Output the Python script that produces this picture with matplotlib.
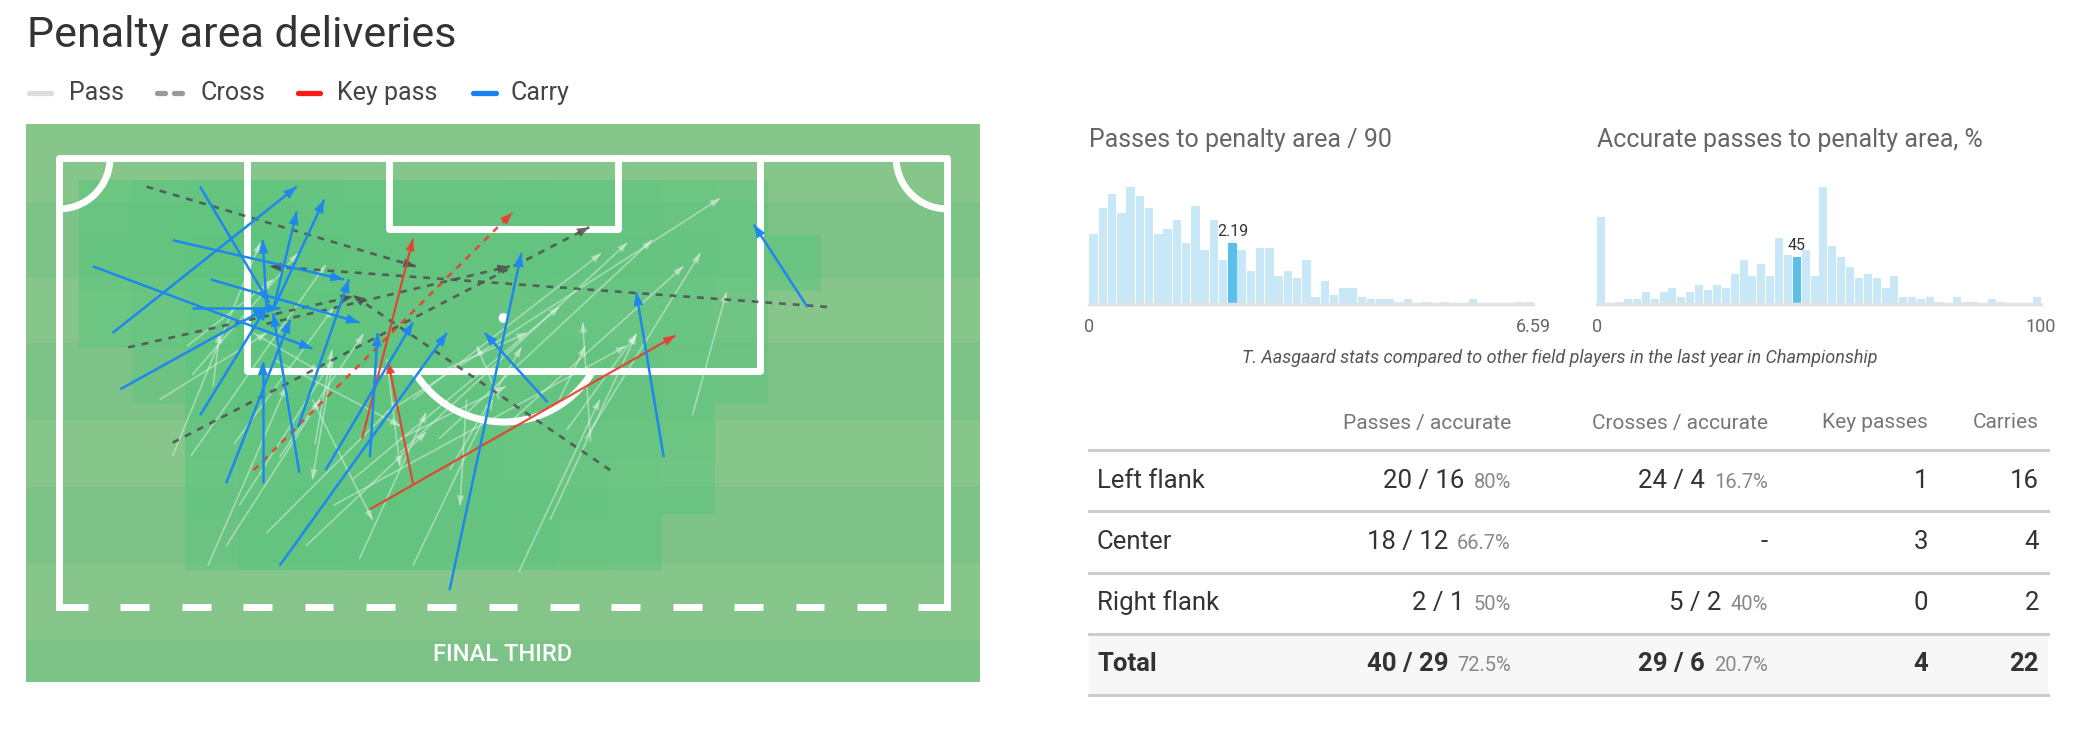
import numpy as np
import matplotlib
matplotlib.use("Agg")
import matplotlib.pyplot as plt
from matplotlib.patches import Arc, Circle, Rectangle

plt.rcParams['font.family'] = ['Roboto', 'DejaVu Sans']

W, H = 2088, 744

# ---------------- data ----------------
# pitch events in metres: x across the pitch (0..68), y from the goal line
passes = [
    (25.1, 19.5, 50.6, 3.1), (26.1, 22.6, 43.5, 6.5), (29.1, 21.5, 45.4, 6.3),
    (27.1, 18.5, 41.5, 7.3), (34.2, 20.5, 47.8, 8.3), (40.3, 21.5, 49.1, 7.3),
    (48.5, 19.7, 51.1, 10.3), (40.7, 21.7, 40.1, 12.6), (38.9, 20.8, 44.2, 13.5),
    (37.6, 27.7, 44.2, 13.5), (29.9, 23.9, 35.4, 14.5), (33.7, 18.5, 32.0, 14.4),
    (10.2, 16.6, 18.3, 7.3), (8.7, 22.8, 15.4, 6.5), (10.1, 22.8, 20.4, 8.2),
    (19.6, 21.9, 20.9, 14.7), (16.9, 22.9, 23.3, 13.5), (13.4, 21.9, 21.0, 11.5),
    (11.4, 31.2, 17.4, 17.5), (12.8, 29.7, 20.0, 18.5), (15.9, 28.7, 26.1, 18.5),
    (18.9, 29.7, 28.1, 21.0), (27.1, 31.2, 33.2, 18.5), (35.2, 31.7, 41.4, 18.5),
    (22.5, 24.6, 38.3, 11.4), (21.0, 26.6, 43.4, 14.4), (13.8, 26.6, 21.0, 15.4),
    (16.4, 15.4, 26.1, 20.5), (9.8, 14.4, 16.4, 9.3), (7.7, 18.5, 15.9, 13.4),
    (21.0, 15.4, 19.4, 24.6), (25.1, 15.4, 26.1, 23.6), (31.2, 18.5, 30.7, 26.6),
    (19.4, 18.5, 24.0, 27.7), (14.9, 13.4, 20.0, 16.4), (29.1, 16.4, 35.8, 13.4),
    (11.8, 17.5, 12.3, 13.4), (38.3, 18.5, 40.3, 14.4), (26.1, 21.5, 34.2, 17.5),
    (23.0, 30.7, 28.1, 19.5),
]
crosses = [
    (6.7, 2.2, 27.3, 8.3), (58.8, 11.4, 16.1, 8.3), (8.7, 21.8, 40.6, 5.3),
    (5.3, 14.5, 22.5, 10.6), (15.9, 12.7, 34.5, 8.3), (42.2, 23.9, 22.5, 10.5),
]
key_passes = [
    (23.2, 21.5, 27.1, 6.2), (27.1, 24.9, 25.2, 15.6), (23.8, 26.9, 47.2, 13.6),
]
key_crosses = [
    (14.9, 23.9, 34.7, 4.2),
]
carries = [
    (4.1, 13.4, 18.2, 2.2), (2.6, 8.3, 19.4, 14.6), (8.7, 6.3, 21.8, 9.3),
    (11.6, 9.3, 23.0, 12.6), (10.2, 11.5, 16.9, 11.5), (15.9, 11.6, 15.6, 6.3),
    (16.4, 11.6, 18.2, 4.1), (16.4, 11.6, 20.3, 3.2), (15.6, 24.9, 15.6, 15.6),
    (10.8, 2.2, 16.1, 11.1), (18.4, 24.1, 16.4, 11.9), (12.8, 24.9, 17.7, 12.4),
    (10.8, 19.7, 15.9, 11.4), (4.7, 17.7, 15.9, 11.5), (18.3, 20.6, 22.2, 9.3),
    (23.8, 22.9, 24.4, 13.4), (20.4, 23.9, 27.1, 12.6), (16.9, 31.2, 29.7, 13.4),
    (29.9, 33.1, 35.4, 7.3), (46.3, 22.9, 44.2, 10.3), (57.3, 11.4, 53.2, 5.1),
    (37.4, 18.7, 32.6, 13.4),
]

# heat map behind the events (rows from goal line down, cols left to right)
heat = [
    [0] * 18,
    [0, .4, .6, .7, .8, .7, .6, .5, .5, .6, .5, .5, .4, .3, 0, 0, 0, 0],
    [0, .5, .6, .8, .9, .8, .7, .7, .6, .7, .6, .6, .5, .4, .3, 0, 0, 0],
    [0, .4, .5, .8, 1., .9, .8, .7, .7, .6, .6, .5, .5, .3, 0, 0, 0, 0],
    [0, 0, .2, .7, .9, .9, .8, .7, .7, .6, .6, .5, .4, .2, 0, 0, 0, 0],
    [0, 0, 0, .6, .8, .9, .8, .7, .7, .6, .6, .5, .4, 0, 0, 0, 0, 0],
    [0, 0, 0, .5, .7, .8, .8, .7, .7, .6, .5, .4, .3, 0, 0, 0, 0, 0],
    [0, 0, 0, .3, .6, .7, .6, .6, .5, .5, .4, .3, 0, 0, 0, 0, 0, 0],
    [0] * 18,
    [0] * 18,
]

hist1_counts = [30, 41, 47, 39, 50, 46, 41, 30, 32, 36, 26, 42, 23, 36, 19, 26,
                23, 14, 24, 24, 12, 14, 11, 19, 3, 10, 4, 7, 7, 3, 2, 2,
                2, 1, 2, 0, 1, 0, 1, 0, 0, 2, 0, 0, 0, 0, 1, 1]
hist1_max = 6.59
hist1_value = 2.19
hist2_counts = [37, 0, 1, 2, 2, 5, 2, 5, 7, 3, 5, 8, 6, 8, 7, 13, 19, 12, 17, 12,
                28, 21, 20, 23, 12, 50, 25, 20, 16, 11, 13, 11, 7, 12, 3, 3, 2, 3, 1, 0,
                3, 1, 1, 0, 2, 1, 0, 0, 0, 3]
hist2_max = 100
hist2_value = 45

zones = ["Left flank", "Center", "Right flank", "Total"]
pass_total = [20, 18, 2, 40]
pass_acc = [16, 12, 1, 29]
cross_total = [24, 0, 5, 29]
cross_acc = [4, 0, 2, 6]
key_pass_n = [1, 3, 0, 4]
carry_n = [16, 4, 2, 22]
headers = ["Passes / accurate", "Crosses / accurate", "Key passes", "Carries"]

# ---------------- figure ----------------
fig = plt.figure(figsize=(W / 100, H / 100), dpi=100)
ov = fig.add_axes([0, 0, 1, 1])
ov.set_xlim(0, W)
ov.set_ylim(H, 0)
ov.axis("off")


def rect(x0, y0, x1, y1):
    return [x0 / W, 1 - y1 / H, (x1 - x0) / W, (y1 - y0) / H]


ov.text(27, 36, "Penalty area deliveries", fontsize=31, color="#333333", va="center")

# legend
ly = 93
ov.plot([29, 51], [ly, ly], color="#dddddd", lw=3.8, solid_capstyle="round")
ov.text(69, ly, "Pass", fontsize=18, color="#444444", va="center")
for xa in (157, 174):
    ov.plot([xa, xa + 8], [ly, ly], color="#999999", lw=3.8, solid_capstyle="round")
ov.text(200, ly, "Cross", fontsize=18, color="#444444", va="center")
ov.plot([298, 320], [ly, ly], color="#ff1a1a", lw=3.8, solid_capstyle="round")
ov.text(337, ly, "Key pass", fontsize=18, color="#444444", va="center")
ov.plot([473, 496], [ly, ly], color="#1a7ff0", lw=3.8, solid_capstyle="round")
ov.text(511, ly, "Carry", fontsize=18, color="#444444", va="center")

# ---------------- pitch ----------------
x_lo, x_hi, y_lo, y_hi = -2.53, 70.52, -2.60, 40.12
ax = fig.add_axes(rect(26, 124, 980, 682))
ax.set_xlim(x_lo, x_hi)
ax.set_ylim(y_hi, y_lo)
ax.axis("off")

bands = [-2.6, 3.37, 9.19, 14.17, 20.06, 25.19, 31.01, 36.9, 40.12]
for i in range(len(bands) - 1):
    ax.axhspan(bands[i], bands[i + 1], color="#86c68b" if i % 2 == 0 else "#7dc287",
               lw=0, zorder=0)

heat_arr = np.array(heat)
rgba = np.zeros(heat_arr.shape + (4,))
rgba[..., 0], rgba[..., 1], rgba[..., 2] = 88 / 255, 197 / 255, 124 / 255
rgba[..., 3] = np.sqrt(heat_arr) * 0.85
ax.imshow(rgba, extent=(x_lo, x_hi, y_hi, y_lo), interpolation="nearest",
          aspect="auto", zorder=1)

lc = dict(color="white", lw=5, zorder=2, solid_capstyle="projecting")
fin = 34.38
ax.plot([0, 0, 68, 68], [fin, 0, 0, fin], **lc)
pb_l, pb_r, pb_d = 14.39, 53.68, 16.31
ax.plot([pb_l, pb_l, pb_r, pb_r], [0, pb_d, pb_d, 0], **lc)
ax.plot([25.27, 25.27, 42.80, 42.80], [0, 5.44, 5.44, 0], **lc)
spot = (34.03, 12.25)
ax.add_patch(Circle(spot, 0.32, color="white", zorder=2))
r_arc = 7.96
a0 = np.degrees(np.arcsin((pb_d - spot[1]) / r_arc))
ax.add_patch(Arc(spot, 2 * r_arc, 2 * r_arc, theta1=a0, theta2=180 - a0,
                 color="white", lw=5, zorder=2))
ax.add_patch(Arc((0, 0), 7.8, 7.8, theta1=0, theta2=90, color="white", lw=5, zorder=2))
ax.add_patch(Arc((68, 0), 7.8, 7.8, theta1=90, theta2=180, color="white", lw=5, zorder=2))
for s in np.linspace(0, 68 - 2.2, 15):
    ax.plot([s, s + 2.2], [fin, fin], color="white", lw=5, zorder=2, solid_capstyle="butt")
ax.text(34, 38.0, "FINAL THIRD", color="white", fontsize=17, fontweight="medium",
        ha="center", va="center", zorder=2)


def draw_arrows(items, color, lw, alpha=1.0, ls="-", head=9, z=3):
    for a, b, c, d in items:
        ax.plot([a, c], [b, d], color=color, lw=lw, ls=ls, alpha=alpha, zorder=z,
                solid_capstyle="butt", dash_capstyle="butt")
        ax.annotate("", xy=(c, d), xytext=(a, b), zorder=z,
                    arrowprops=dict(arrowstyle="-|>,head_length=0.8,head_width=0.3",
                                    lw=0, color=color, alpha=alpha,
                                    shrinkA=0, shrinkB=0, mutation_scale=head))


draw_arrows(passes, "#f2f7f2", 1.2, alpha=0.45, head=9, z=3)
draw_arrows(crosses, "#4f4f4f", 1.9, alpha=0.85, ls=(0, (2.6, 2.6)), head=11, z=4)
draw_arrows(key_crosses, "#ec3b2c", 1.8, alpha=0.9, ls=(0, (2.6, 2.6)), head=11, z=5)
draw_arrows(key_passes, "#ec3b2c", 1.6, alpha=0.9, head=11, z=5)
draw_arrows(carries, "#1e88ef", 1.8, head=12, z=6)


# ---------------- histograms ----------------
def histogram(x0, title, counts, vmax, value, label, lo_lab, hi_lab):
    hx = fig.add_axes(rect(x0, 187, x0 + 444, 304))
    n = len(counts)
    edges = np.linspace(0, vmax, n + 1)
    bw = edges[1] - edges[0]
    hi = min(int(value / bw), n - 1)
    cols = ["#5bbfeb" if i == hi else "#c9e8f7" for i in range(n)]
    hx.bar(edges[:-1] + bw / 2, counts, width=bw * 0.9, color=cols, lw=0)
    hx.set_xlim(0, vmax)
    hx.set_ylim(0, max(counts))
    hx.axis("off")
    hx.axhline(0, color="#e2e2e2", lw=2.5, clip_on=False)
    hx.annotate(label, xy=(edges[hi] + bw / 2, counts[hi]), xytext=(0, 3),
                textcoords="offset points", ha="center", va="bottom",
                fontsize=11.5, color="#333333")
    tr = hx.get_xaxis_transform()
    hx.text(0, -0.2, lo_lab, transform=tr, ha="center", va="center", fontsize=13, color="#666666")
    hx.text(vmax, -0.2, hi_lab, transform=tr, ha="center", va="center", fontsize=13, color="#666666")
    ov.text(x0, 140, title, fontsize=18, color="#666666", va="center")


histogram(1089, "Passes to penalty area / 90", hist1_counts, hist1_max, hist1_value,
          "2.19", "0", "6.59")
histogram(1597, "Accurate passes to penalty area, %", hist2_counts, hist2_max, hist2_value,
          "45", "0", "100")
ov.text(1560, 358, "T. Aasgaard stats compared to other field players in the last year in Championship",
        fontsize=13, style="italic", color="#555555", ha="center", va="center")

# ---------------- table ----------------
t_l, t_r = 1089, 2048
col_r = [1511, 1768, 1928, 2039]
head_y = 423
row_y = [481, 542, 603, 664]
line_y = [450, 511, 573, 634, 695]

ov.add_patch(Rectangle((t_l, line_y[3]), t_r - t_l, line_y[4] - line_y[3],
                       color="#f7f7f7", lw=0, zorder=0))
for yl in line_y:
    ov.plot([t_l, t_r], [yl, yl], color="#cccccc", lw=2.2, zorder=1)
for hname, xr in zip(headers, col_r):
    ov.text(xr, head_y, hname, fontsize=15, color="#777777", ha="right", va="center")

renderer = fig.canvas.get_renderer()


def pct(a, t):
    return f"{100 * a / t:.1f}".rstrip("0").rstrip(".") + "%"


def pair(xr, yb, total, acc, fw):
    if total == 0:
        ov.text(xr, yb, "-", fontsize=18.5, color="#333333", ha="right", va="baseline")
        return
    tp = ov.text(xr, yb, pct(acc, total), fontsize=14.5, color="#888888", ha="right", va="baseline")
    w = tp.get_window_extent(renderer=renderer).width
    ov.text(xr - w - 9, yb, f"{total} / {acc}", fontsize=18.5, color="#333333",
            ha="right", va="baseline", fontweight=fw)


for i, zone in enumerate(zones):
    fw = "bold" if zone == "Total" else "normal"
    yb = row_y[i] + 7
    ov.text(1097, yb, zone, fontsize=18.5, color="#333333", va="baseline", fontweight=fw)
    pair(col_r[0], yb, pass_total[i], pass_acc[i], fw)
    pair(col_r[1], yb, cross_total[i], cross_acc[i], fw)
    ov.text(col_r[2], yb, str(key_pass_n[i]), fontsize=18.5, color="#333333",
            ha="right", va="baseline", fontweight=fw)
    ov.text(col_r[3], yb, str(carry_n[i]), fontsize=18.5, color="#333333",
            ha="right", va="baseline", fontweight=fw)

fig.savefig("out.png", dpi=100, facecolor="white")
